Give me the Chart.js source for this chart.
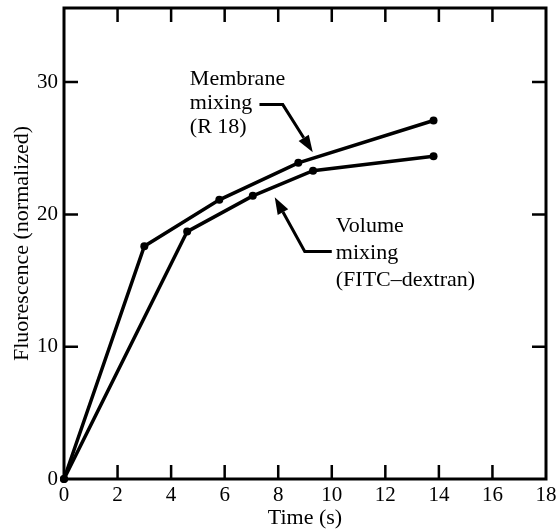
<!DOCTYPE html>
<html>
<head>
<meta charset="utf-8">
<script src="https://cdn.jsdelivr.net/npm/chart.js@4/dist/chart.umd.min.js"></script>
<style>
  html, body { margin: 0; padding: 0; background: #fff; }
  #wrap { width: 556px; height: 531px; }
</style>
</head>
<body>
<div id="wrap"><canvas id="chart" width="556" height="531"></canvas></div>
<script>
// values
const membraneTime = [0, 3.0, 5.8, 8.75, 13.8];
const membraneFluor = [0, 17.6, 21.1, 23.9, 27.1];
const volumeTime = [0, 4.6, 7.05, 9.3, 13.8];
const volumeFluor = [0, 18.7, 21.4, 23.3, 24.4];

const xTicks = [0, 2, 4, 6, 8, 10, 12, 14, 16, 18];
const yTicks = [0, 10, 20, 30];

const FONT = "'Liberation Serif', 'DejaVu Serif', serif";
const INK = "#000";

// callouts, anchored in data units
const callouts = [
  { lines: ["Membrane", "mixing", "(R 18)"], at: [4.7, 30.2], lineGap: 24,
    leader: [[7.3, 28.3], [8.17, 28.3], [9.29, 24.7]] },
  { lines: ["Volume", "mixing", "(FITC\u2013dextran)"], at: [10.15, 19.1], lineGap: 27,
    leader: [[10.0, 17.2], [8.99, 17.2], [7.87, 21.3]] }
];

function toPoints(xs, ys) {
  return xs.map((x, i) => ({ x: x, y: ys[i] }));
}

const frameAndTicks = {
  id: "frameAndTicks",
  afterDraw(c) {
    const { ctx, chartArea: a, scales } = c;
    const len = 14;
    ctx.save();
    ctx.strokeStyle = INK;
    ctx.lineWidth = 2.5;
    xTicks.forEach(v => {
      const px = scales.x.getPixelForValue(v);
      if (v === 0 || v === 18) return;
      ctx.beginPath();
      ctx.moveTo(px, a.bottom); ctx.lineTo(px, a.bottom - len);
      ctx.moveTo(px, a.top); ctx.lineTo(px, a.top + len);
      ctx.stroke();
    });
    yTicks.forEach(v => {
      if (v === 0) return;
      const py = scales.y.getPixelForValue(v);
      ctx.beginPath();
      ctx.moveTo(a.left, py); ctx.lineTo(a.left + len, py);
      ctx.moveTo(a.right, py); ctx.lineTo(a.right - len, py);
      ctx.stroke();
    });
    ctx.lineWidth = 3;
    ctx.strokeRect(a.left, a.top, a.right - a.left, a.bottom - a.top);
    ctx.restore();
  }
};

const calloutPlugin = {
  id: "callouts",
  afterDraw(c) {
    const { ctx, scales } = c;
    const px = p => [scales.x.getPixelForValue(p[0]), scales.y.getPixelForValue(p[1])];
    ctx.save();
    ctx.fillStyle = INK;
    ctx.strokeStyle = INK;
    ctx.font = "22px " + FONT;
    ctx.textBaseline = "middle";
    ctx.textAlign = "left";
    callouts.forEach(co => {
      const [tx, ty] = px(co.at);
      co.lines.forEach((t, i) => ctx.fillText(t, tx, ty + i * co.lineGap));

      const pts = co.leader.map(px);
      ctx.lineWidth = 3;
      ctx.beginPath();
      ctx.moveTo(pts[0][0], pts[0][1]);
      for (let i = 1; i < pts.length - 1; i++) ctx.lineTo(pts[i][0], pts[i][1]);
      const tip = pts[pts.length - 1];
      const prev = pts[pts.length - 2];
      const ang = Math.atan2(tip[1] - prev[1], tip[0] - prev[0]);
      const headLen = 17, headW = 6;
      const bx = tip[0] - headLen * Math.cos(ang), by = tip[1] - headLen * Math.sin(ang);
      ctx.lineTo(bx, by);
      ctx.stroke();
      ctx.beginPath();
      ctx.moveTo(tip[0], tip[1]);
      ctx.lineTo(bx + headW * Math.sin(ang), by - headW * Math.cos(ang));
      ctx.lineTo(bx - headW * Math.sin(ang), by + headW * Math.cos(ang));
      ctx.closePath();
      ctx.fill();
    });
    ctx.restore();
  }
};

const lineStyle = {
  borderColor: INK,
  backgroundColor: INK,
  borderWidth: 3.5,
  pointRadius: 4,
  pointHoverRadius: 4,
  pointBorderWidth: 0,
  tension: 0,
  showLine: true,
  clip: false
};

new Chart(document.getElementById("chart"), {
  type: "scatter",
  data: {
    datasets: [
      Object.assign({ label: "Membrane mixing (R 18)", data: toPoints(membraneTime, membraneFluor) }, lineStyle),
      Object.assign({ label: "Volume mixing (FITC-dextran)", data: toPoints(volumeTime, volumeFluor) }, lineStyle)
    ]
  },
  options: {
    responsive: false,
    animation: false,
    events: [],
    layout: { padding: { top: 8, right: 10, left: 0, bottom: 0 } },
    plugins: { legend: { display: false }, tooltip: { enabled: false } },
    scales: {
      x: {
        type: "linear", min: 0, max: 18,
        afterBuildTicks: s => { s.ticks = xTicks.map(v => ({ value: v })); },
        afterFit: s => { s.height = 52; s.paddingLeft = 0; s.paddingRight = 0; },
        grid: { display: false, drawTicks: false },
        border: { display: false },
        ticks: { color: INK, font: { family: FONT, size: 21 }, padding: 4, maxRotation: 0 },
        title: { display: true, text: "Time (s)", color: INK, font: { family: FONT, size: 22 }, padding: { top: -4, bottom: 0 } }
      },
      y: {
        type: "linear", min: 0, max: 35.6,
        afterBuildTicks: s => { s.ticks = yTicks.map(v => ({ value: v })); },
        afterFit: s => { s.width = 64; s.paddingTop = 0; s.paddingBottom = 0; },
        grid: { display: false, drawTicks: false },
        border: { display: false },
        ticks: { color: INK, font: { family: FONT, size: 21 }, padding: 6 },
        title: { display: true, text: "Fluorescence (normalized)", color: INK, font: { family: FONT, size: 22 }, padding: { top: 9, bottom: 0 } }
      }
    }
  },
  plugins: [frameAndTicks, calloutPlugin]
});
</script>
</body>
</html>
